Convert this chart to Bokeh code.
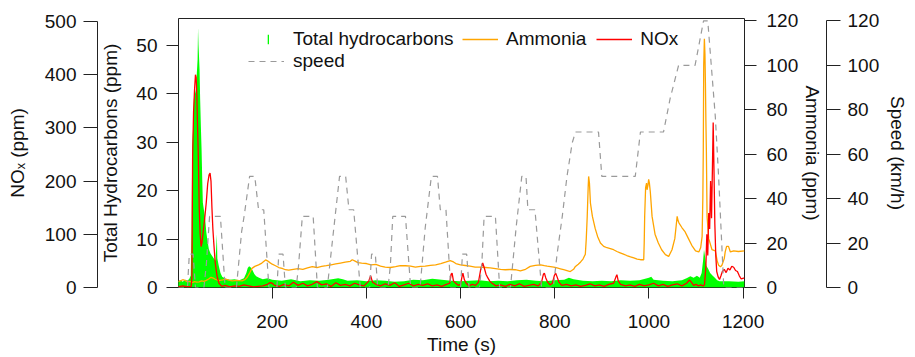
from bokeh.plotting import figure
from bokeh.models import Range1d, LinearAxis, FixedTicker, Legend, LegendItem
from bokeh.embed import file_html
from bokeh.resources import INLINE

FONT = "Liberation Sans"
FS = "19px"

# ---------------- data ----------------
x_ticks = [200, 400, 600, 800, 1000, 1200]
thc_ticks = [0, 10, 20, 30, 40, 50]
nox_ticks = [0, 100, 200, 300, 400, 500]
nh3_ticks = [0, 20, 40, 60, 80, 100, 120]
speed_ticks = [0, 20, 40, 60, 80, 100, 120]

# Total hydrocarbons (ppm)
t_thc = [0, 5, 10, 15, 20, 24, 27, 28.7, 30.1, 32, 33.6, 36, 38, 40, 41.5, 42.5, 43.5, 44.5, 45.7, 47,
         48.5, 50, 51.5, 52.7, 55, 57, 60, 62, 65.5, 69, 72.5, 76, 79.6, 81.5, 82.5, 83.5, 86.7, 90.2,
         93.8, 101, 110, 120, 130, 140, 145, 148, 151, 154, 158, 162, 166, 172, 180, 190, 200, 220,
         240, 260, 280, 300, 320, 340, 350, 360, 380, 400, 420, 440, 460, 480, 500, 520, 540, 560,
         580, 600, 620, 640, 660, 680, 700, 720, 740, 760, 780, 800, 820, 830, 840, 860, 880, 900,
         920, 940, 960, 980, 1000, 1005, 1010, 1030, 1050, 1070, 1080, 1088, 1095, 1102, 1108, 1112,
         1115, 1117, 1119, 1122, 1126, 1130, 1135, 1140, 1145, 1150, 1170, 1190, 1203]
thc = [1.3, 1.5, 1.2, 1.6, 1.4, 1.8, 2.5, 11.3, 29, 33, 38.8, 41, 40, 44.3, 47, 53.6, 50, 47.8, 45, 38.8,
       33.3, 28.5, 22, 17.5, 16, 14.8, 11.5, 10, 7.9, 7, 6.5, 6, 5.5, 9, 11, 6, 4.4, 3.0,
       2.2, 1.8, 1.6, 1.7, 1.5, 1.9, 3.0, 4.0, 4.4, 4.2, 3.6, 2.8, 2.3, 2.0, 1.7, 1.9, 1.6, 1.4,
       1.7, 1.3, 1.5, 1.4, 1.6, 1.9, 1.7, 1.4, 1.5, 1.3, 1.5, 1.4, 1.2, 1.3, 1.6, 1.5, 1.8, 1.6,
       1.4, 1.3, 1.4, 1.5, 1.3, 1.4, 1.3, 1.5, 1.6, 1.4, 1.3, 1.5, 1.6, 2.0, 1.7, 1.4, 1.3, 1.4,
       1.3, 1.5, 1.4, 1.5, 2.0, 2.2, 1.6, 1.4, 1.3, 1.5, 1.9, 2.3, 2.0, 2.4, 2.0, 3.0,
       5.5, 7.8, 6.5, 4.5, 3.8, 3.0, 2.5, 2.0, 1.5, 1.3, 1.3, 1.2, 1.3]

# Ammonia (ppm)
t_nh3 = [0, 5, 10, 15, 20, 25, 30, 35, 40, 45, 50, 55, 60, 65, 70, 75, 80, 87, 95, 101, 108, 115, 125,
         136, 142, 147, 152, 157, 163, 171, 178, 186, 190, 195, 200, 207, 214, 221, 228, 235, 245, 255,
         265, 275, 285, 295, 305, 315, 325, 335, 345, 355, 366, 370, 375, 382, 390, 400, 410, 420, 430,
         440, 451, 462, 472, 483, 494, 504, 515, 525, 536, 547, 558, 568, 578, 585, 590, 600, 610, 620,
         631, 642, 653, 663, 674, 685, 695, 705, 716, 727, 738, 748, 759, 770, 778, 784, 791, 798, 805,
         812, 819, 826, 833, 840, 844, 850, 855, 860, 865, 867, 869, 871, 872, 873.7, 875.8, 880, 886,
         891, 897, 904, 911, 918, 925, 932, 939, 946, 953, 961, 968, 975, 982, 989, 990, 991, 993, 995,
         996, 998, 999.5, 1001, 1003, 1006.7, 1013, 1020, 1027, 1035, 1042, 1049, 1055, 1058, 1060,
         1062, 1064, 1070, 1077, 1084, 1091, 1099, 1106, 1110, 1113, 1114.5, 1115.5, 1116.4, 1117.8,
         1119, 1120, 1121, 1122, 1123.5, 1127, 1134, 1141, 1145, 1148, 1152, 1155, 1160, 1162, 1165,
         1169, 1173, 1180, 1190, 1203]
nh3 = [2.7, 3.0, 3.5, 3.2, 2.5, 2.8, 2.2, 2.6, 2.4, 2.5, 3.0, 2.8, 3.2, 3.8, 4.6, 4.2, 3.6, 3.1, 3.4, 3.8,
       3.3, 3.0, 3.2, 3.0, 3.5, 4.6, 6.5, 8.6, 9.5, 10.2, 11, 12.4, 12, 11.2, 10.5, 9.8, 9.0, 8.6, 8.0,
       7.8, 8.2, 8.5, 8.2, 8.8, 9.4, 9.0, 9.5, 9.8, 10.2, 10.6, 11, 11.4, 11.8, 12.5, 12.0, 11.2, 11,
       10.8, 10.2, 10.4, 9.6, 9.2, 9.0, 9.4, 9.8, 9.8, 9.6, 9.2, 9.5, 9.6, 10.0, 10.2, 10.8, 11.4, 12.1,
       11.5, 10.8, 10.2, 9.9, 9.6, 9.2, 9.2, 9.0, 8.8, 8.5, 8.2, 8.0, 8.1, 8.0, 7.5, 8.2, 9.5, 10.0,
       10.2, 9.8, 9.6, 9.4, 9.2, 8.8, 8.4, 8.0, 7.6, 7.2, 8.2, 9.5, 10.5, 11.5, 12.8, 15, 22, 32, 45,
       50, 47, 38, 32, 26.5, 23, 20, 18.5, 17.9, 17.5, 17, 16.2, 15.6, 15, 14.4, 13.8, 13.3, 12.8,
       12.5, 12.5, 20, 32, 45, 47, 44, 46, 48.7, 47, 43, 32, 24, 20, 17, 14.8, 14, 17, 22, 28, 32, 30,
       29, 27, 25, 22, 19, 16.5, 16, 18, 23, 40, 62, 100, 112, 105, 92, 75, 62, 32, 22, 17, 16.5, 12,
       10, 9.3, 10, 13, 16, 18.5, 18.5, 16, 16.5, 16.2, 16.5]

# NOx (ppm)
t_nox = [0, 10, 20, 28, 29.5, 31, 33, 35, 37, 38.5, 40, 41.5, 43, 45, 47, 49, 51, 53, 57, 60, 63, 66,
         68, 70, 72, 74, 76, 79, 83, 87, 93, 100, 110, 120, 130, 140, 150, 160, 170, 180, 190, 195,
         200, 205, 215, 225, 235, 245, 255, 265, 275, 285, 295, 305, 315, 325, 335, 345, 355, 365,
         375, 385, 395, 405, 409, 413, 420, 430, 440, 450, 460, 470, 480, 490, 500, 510, 520, 530,
         540, 550, 560, 570, 577, 580, 582, 585, 590, 595, 600, 603, 605, 608, 612, 618, 625, 632,
         638, 643, 647, 650, 654, 658, 662, 667, 675, 685, 695, 705, 715, 725, 735, 745, 755, 765,
         772, 776, 778, 781, 785, 790, 795, 799, 802, 805, 809, 815, 825, 835, 845, 855, 865, 875,
         885, 895, 905, 915, 925, 930, 932, 935, 940, 950, 960, 970, 980, 990, 1000, 1010, 1020,
         1030, 1040, 1050, 1060, 1070, 1080, 1086, 1090, 1095, 1100, 1105, 1110, 1115, 1118, 1121,
         1123, 1125, 1127, 1129, 1131, 1133, 1135, 1136.5, 1138, 1140, 1142, 1144, 1147, 1150, 1153,
         1156, 1160, 1164, 1168, 1172, 1176, 1180, 1184, 1188, 1192, 1196, 1203]
nox = [1, 3, 1, 2, 20, 246, 330, 370, 400, 395, 360, 300, 250, 150, 100, 77, 85, 101, 133, 160, 195, 212,
       215, 200, 150, 110, 83, 46, 21, 8, 2, 4, 1, 3, 2, 5, 3, 1, 2, 3, 6, 9,
       8, 4, 2, 6, 3, 10, 4, 8, 3, 6, 11, 5, 7, 2, 9, 4, 6, 3,
       8, 5, 3, 12, 22, 10, 6, 3, 7, 4, 9, 2, 5, 8, 3, 6, 4, 7,
       3, 5, 2, 6, 8, 25, 27, 12, 8, 4, 6, 20, 27, 15, 8, 3, 6, 4,
       10, 35, 46, 38, 25, 18, 12, 8, 3, 5, 2, 6, 3, 7, 2, 4, 6, 3,
       10, 25, 27, 18, 10, 5, 8, 22, 27, 20, 10, 4, 6, 3, 5, 2, 4, 7,
       3, 5, 2, 6, 8, 20, 24, 12, 6, 3, 5, 2, 6, 3, 5, 8, 3,
       6, 2, 5, 7, 3, 8, 14, 10, 4, 6, 3, 5, 3, 5, 40,
       100, 60, 140, 110, 200, 130, 230, 310, 230, 120, 60, 30, 20, 15, 22,
       30, 34, 28, 36, 33, 40, 38, 32, 30, 22, 16, 18]

# Vehicle speed (km/h)
t_speed = [0, 20, 24, 32, 37, 55, 60, 67, 90, 100, 124, 135, 141, 152, 163, 171, 182, 193,
           210, 214, 223, 228, 251, 256, 264, 287, 296, 317, 331, 343, 356, 363, 373, 387,
           407, 411, 419, 424, 446, 451, 456, 483, 494, 514, 525, 538, 551, 557, 569, 579,
           600, 604, 613, 618, 640, 645, 650, 674, 683, 706, 718, 730, 739, 743, 758, 772,
           797, 805, 816, 826, 837, 844, 893, 900, 971, 982, 1031, 1045, 1063, 1098, 1116, 1125,
           1141, 1148, 1159, 1203]
speed = [0, 0, 15, 15, 0, 0, 10, 32, 32, 0, 0, 25, 33, 50, 50, 35, 35, 0,
         0, 15, 15, 0, 0, 10, 32, 32, 0, 0, 27, 50, 50, 35, 35, 0,
         0, 15, 15, 0, 0, 10, 32, 32, 0, 0, 27, 50, 50, 35, 35, 0,
         0, 15, 15, 0, 0, 10, 32, 32, 0, 0, 27, 50, 50, 35, 35, 0,
         0, 15, 32, 50, 65, 70, 70, 50, 50, 70, 70, 85, 100, 100, 120, 120,
         77, 50, 0, 0]

# ---------------- figure ----------------
p = figure(width=915, height=357, output_backend="svg", toolbar_location=None,
           x_range=Range1d(1, 1203), y_range=Range1d(0, 55.5),
           min_border_left=178, min_border_right=171, min_border_top=18, min_border_bottom=70)
p.extra_y_ranges = {"nox": Range1d(0, 505.6), "nh3": Range1d(0, 121.1), "speed": Range1d(0, 121.1)}
p.grid.visible = False
p.outline_line_color = "#222222"
p.outline_line_width = 1
p.background_fill_color = "white"
p.border_fill_color = "white"


def style(ax, tick_out, lab_standoff, title_standoff):
    ax.major_tick_out = tick_out
    ax.major_tick_in = 0
    ax.minor_tick_out = 0
    ax.minor_tick_in = 0
    ax.major_label_standoff = lab_standoff
    ax.axis_label_standoff = title_standoff
    ax.major_label_text_font = FONT
    ax.major_label_text_font_size = FS
    ax.major_label_text_color = "#111111"
    ax.axis_label_text_font = FONT
    ax.axis_label_text_font_size = FS
    ax.axis_label_text_font_style = "normal"
    ax.axis_label_text_color = "#111111"
    ax.axis_line_color = "#222222"
    ax.major_tick_line_color = "#222222"


def spacer(width):
    ax = LinearAxis(ticker=FixedTicker(ticks=[]), axis_line_color=None,
                    major_tick_out=width, major_tick_in=0, minor_tick_out=0, minor_tick_in=0,
                    major_label_standoff=0, major_tick_line_color=None)
    return ax


xa = p.xaxis[0]
xa.ticker = FixedTicker(ticks=x_ticks)
xa.axis_label = "Time (s)"
style(xa, 11, 16, 3)
xa.axis_line_color = None

ya = p.yaxis[0]
ya.ticker = FixedTicker(ticks=thc_ticks)
ya.axis_label = "Total Hydrocarbons (ppm)"
style(ya, 12, 9, 12)
ya.axis_line_color = None

p.add_layout(spacer(2), "left")
nox_ax = LinearAxis(y_range_name="nox", ticker=FixedTicker(ticks=nox_ticks),
                    axis_label="NO\u2093 (ppm)", bounds=(0, 500))
style(nox_ax, 14, 7, 14)
p.add_layout(nox_ax, "left")

nh3_ax = LinearAxis(y_range_name="nh3", ticker=FixedTicker(ticks=nh3_ticks),
                    axis_label="Ammonia (ppm)", bounds=(0, 120))
style(nh3_ax, 12, 10, 1)
nh3_ax.axis_line_color = None
p.add_layout(nh3_ax, "right")
p.add_layout(spacer(16), "right")
sp_ax = LinearAxis(y_range_name="speed", ticker=FixedTicker(ticks=speed_ticks),
                   axis_label="Speed (km/h)", bounds=(0, 120))
style(sp_ax, 14, 7, 5)
p.add_layout(sp_ax, "right")

# ---------------- series ----------------
r_thc = p.varea(x=t_thc, y1=0, y2=thc, fill_color="#00ff00")
r_nh3 = p.line(t_nh3, nh3, y_range_name="nh3", line_color="#ffa500", line_width=1.3)
r_nox = p.line(t_nox, nox, y_range_name="nox", line_color="#ff0000", line_width=1.3)
r_speed = p.line(t_speed, speed, y_range_name="speed", line_color="#9a9a9a",
                 line_width=1.2, line_dash="6 5")


def make_legend(items, loc, gw, gh, standoff, spacing):
    lg = Legend(items=items, location=loc, orientation="horizontal",
                glyph_width=gw, glyph_height=gh, label_standoff=standoff, spacing=spacing,
                padding=0, margin=0, background_fill_alpha=0, border_line_alpha=0,
                label_text_font=FONT, label_text_font_size=FS, label_text_color="#111111")
    return lg


p.add_layout(make_legend([LegendItem(label="Total hydrocarbons", renderers=[r_thc])],
                         (89, 237), 2, 12, 24, 0))
p.add_layout(make_legend([LegendItem(label="Ammonia", renderers=[r_nh3]),
                          LegendItem(label="NOx", renderers=[r_nox])],
                         (284, 237), 36, 20, 8, 10))
p.add_layout(make_legend([LegendItem(label="speed", renderers=[r_speed])],
                         (70, 215), 36, 20, 9, 0))

open("out.html", "w").write(file_html(p, INLINE))
